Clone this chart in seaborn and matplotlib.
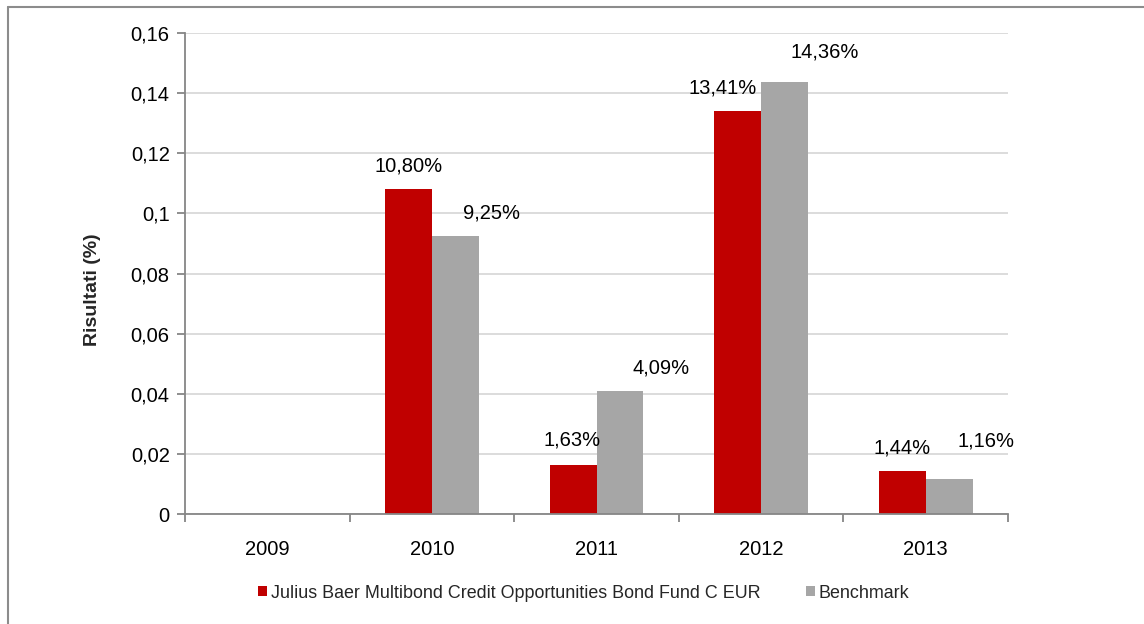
import numpy as np
import pandas as pd
import matplotlib
matplotlib.use("Agg")
import matplotlib.pyplot as plt
import seaborn as sns
from matplotlib.ticker import FuncFormatter, FixedLocator
from matplotlib.patches import Patch

# ---- data ----
years = ["2009", "2010", "2011", "2012", "2013"]
fund_name = "Julius Baer Multibond Credit Opportunities Bond Fund C EUR"
bench_name = "Benchmark"
fund_values = [np.nan, 0.1080, 0.0163, 0.1341, 0.0144]
bench_values = [np.nan, 0.0925, 0.0409, 0.1436, 0.0116]
fund_labels = ["", "10,80%", "1,63%", "13,41%", "1,44%"]
bench_labels = ["", "9,25%", "4,09%", "14,36%", "1,16%"]
y_ticks = [0, 0.02, 0.04, 0.06, 0.08, 0.10, 0.12, 0.14, 0.16]

# label offsets (pixels) relative to bar top centre: (dx, dy)
fund_offsets = [(0, 0), (0, 23), (-1, 25), (-15, 23), (0, 23)]
bench_offsets = [(0, 0), (36, 23), (41, 23), (40, 30), (37, 38)]

RED = "#C00000"
GREY = "#A6A6A6"
GRID = "#D9D9D9"
AXIS = "#868686"

sns.set_theme(style="white")
plt.rcParams["font.family"] = ["Liberation Sans", "DejaVu Sans"]

df = pd.DataFrame({
    "Anno": years * 2,
    "Serie": [fund_name] * len(years) + [bench_name] * len(years),
    "Valore": fund_values + bench_values,
})
df = df.dropna()

fig = plt.figure(figsize=(11.44, 6.24), dpi=100)
ax = fig.add_axes([185 / 1144, 1 - 514 / 624, (1008 - 185) / 1144, (514 - 33) / 624])

sns.barplot(data=df, x="Anno", y="Valore", hue="Serie", order=years,
            hue_order=[fund_name, bench_name], palette=[RED, GREY],
            width=0.571, linewidth=0, saturation=1, ax=ax, legend=False)

ax.set_xlim(-0.5, len(years) - 0.5)
ax.set_ylim(0, 0.16)
ax.yaxis.set_major_locator(FixedLocator(y_ticks))
ax.yaxis.set_major_formatter(FuncFormatter(lambda v, p: f"{round(v, 2):g}".replace(".", ",")))
ax.grid(axis="y", color=GRID, linewidth=1.3)
ax.set_axisbelow(True)

for s in ["top", "right"]:
    ax.spines[s].set_visible(False)
for s in ["left", "bottom"]:
    ax.spines[s].set_color(AXIS)
    ax.spines[s].set_linewidth(1.3)

ax.tick_params(axis="y", which="major", left=True, length=6, width=1.3, color=AXIS,
               labelsize=14.5, labelcolor="#000000", pad=5)
ax.tick_params(axis="x", which="major", bottom=False, labelsize=14.5,
               labelcolor="#000000", pad=13)
ax.xaxis.set_minor_locator(FixedLocator(np.arange(-0.5, len(years), 1.0)))
ax.tick_params(axis="x", which="minor", bottom=True, length=6, width=1.3, color=AXIS)

ax.set_xlabel("")
ax.set_ylabel("Risultati (%)", fontsize=14, fontweight="bold")
ax.yaxis.set_label_coords(-0.102, 0.466)

# data labels
bw = 0.571 / 2
for i, (fv, bv) in enumerate(zip(fund_values, bench_values)):
    if not np.isnan(fv):
        dx, dy = fund_offsets[i]
        ax.annotate(fund_labels[i], (i - bw / 2, fv), xytext=(dx, dy),
                    textcoords="offset pixels", ha="center", va="center",
                    fontsize=14.5, color="#000000")
    if not np.isnan(bv):
        dx, dy = bench_offsets[i]
        ax.annotate(bench_labels[i], (i + bw / 2, bv), xytext=(dx, dy),
                    textcoords="offset pixels", ha="center", va="center",
                    fontsize=14.5, color="#000000")

handles = [Patch(facecolor=RED, edgecolor="none"), Patch(facecolor=GREY, edgecolor="none")]
fig.legend(handles, [fund_name, bench_name], loc="center",
           bbox_to_anchor=(583.5 / 1144, 1 - 593 / 624), ncol=2, frameon=False,
           fontsize=12.9, handlelength=0.5, handleheight=0.5, handletextpad=0.2,
           columnspacing=2.55)

# outer frame (left and top edges visible)
fig.add_artist(plt.Line2D([8 / 1144, 8 / 1144], [0, 1 - 7 / 624], transform=fig.transFigure,
                          color="#8C8C8C", linewidth=1.5))
fig.add_artist(plt.Line2D([8 / 1144, 1], [1 - 7 / 624, 1 - 7 / 624], transform=fig.transFigure,
                          color="#8C8C8C", linewidth=1.5))

fig.savefig("out.png", dpi=100, facecolor="white")
